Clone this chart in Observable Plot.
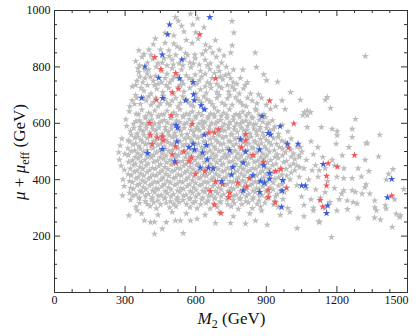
<!DOCTYPE html>
<html>
<head>
<meta charset="utf-8">
<script src="https://cdn.jsdelivr.net/npm/d3@7"></script>
<script src="https://cdn.jsdelivr.net/npm/@observablehq/plot@0.6"></script>
<style>
  html, body { margin: 0; padding: 0; background: #fff; }
  #chart svg { display: block; }
</style>
</head>
<body>
<div id="chart"></div>
<script>
// ---- tick values ----
const xTicks = [0, 300, 600, 900, 1200, 1500];
const xMinor = [75, 150, 225, 375, 450, 525, 675, 750, 825, 975, 1050, 1125, 1275, 1350, 1425];
const yTicks = [200, 400, 600, 800, 1000];
const yMinor = [50, 100, 150, 250, 300, 350, 450, 500, 550, 650, 700, 750, 850, 900, 950];

// ---- gray points [M2, mu+mu_eff] ----
const grayPoints = [
  [514,976],[526,963],[578,988],[608,972],[754,962],[540,945],[587,950],[762,921],
  [507,911],[429,900],[358,858],[401,861],[450,861],[486,858],[557,849],[596,843],[642,858],[585,884],
  [642,879],[684,894],[507,882],[521,872],[535,865],[755,876],[749,850],[853,850],[470,885],[610,900],
  [660,870],[560,895],[700,860],[420,880],[380,845],[1321,838],[470,920],[550,925],[600,922],[635,940],
  [345,820],[372,835],[395,815],[418,828],[440,812],[465,830],[478,805],[500,825],[515,842],[530,812],
  [552,828],[575,815],[598,830],[615,808],[640,825],[662,812],[688,835],[710,815],[730,800],[760,790],
  [355,795],[400,790],[455,785],[500,795],[540,790],[580,798],[620,785],[660,792],[700,785],[858,799],[800,790],
  [362,805],[385,790],[410,842],[432,800],[458,815],[488,838],[505,808],[545,805],[565,842],[590,812],
  [628,846],[650,805],[672,850],[695,800],[720,840],[740,775],[362,765],[385,760],[430,768],[455,745],
  [478,775],[500,755],[525,770],[548,740],[572,760],[598,772],[615,752],[640,775],[662,740],[680,778],
  [705,765],[725,770],[748,760],[775,740],[820,745],[345,735],[368,725],[425,735],[475,735],[535,735],
  [590,738],[640,730],[700,730],[755,730],[810,735],
  [330,730],[358,781],[394,776],[408,764],[350,750],[375,745],[395,735],[420,750],[440,740],[470,760],
  [490,745],[510,765],[540,750],[560,770],[585,755],[605,740],[625,765],[650,745],[670,760],[690,740],
  [715,755],[735,735],[760,745],[790,760],[889,773],[901,752],[948,747],[803,723],[833,705],[867,702],
  [380,715],[410,705],[435,722],[460,710],[485,725],[505,705],[525,728],[550,712],[575,725],[600,705],
  [620,720],[645,708],[665,725],[690,710],[710,725],[740,712],[765,720],[785,705],[345,700],[1003,710],
  [330,681],[320,660],[350,690],[365,668],[390,680],[410,665],[430,690],[450,670],[470,685],[490,665],
  [515,690],[535,672],[560,685],[580,665],[605,690],[625,672],[648,685],[670,668],[690,690],[712,672],
  [735,688],[755,665],[780,680],[800,665],[854,651],[918,651],[967,681],[1045,683],[1151,683],[1159,693],
  [1062,639],[1088,639],[1074,645],[1173,654],[880,690],[820,690],[1055,628],[1074,628],
  [340,668],[378,690],[400,695],[420,675],[440,660],[462,697],[480,670],[500,680],[525,660],[545,695],
  [570,675],[590,660],[615,680],[635,695],[660,678],[680,655],[700,700],[725,665],[745,700],[770,692],
  [790,675],[815,660],[840,680],[860,670],[900,665],[940,660],[980,650],
  [318,642],[347,633],[371,648],[400,637],[426,645],[455,631],[478,644],[507,638],[533,649],[560,633],
  [586,641],[613,636],[641,650],[664,634],[694,643],[719,637],[744,649],[772,632],[800,641],[826,636],
  [858,646],[890,632],
  [357,631],[387,625],[411,630],[441,626],[465,632],[494,624],[519,629],[547,627],[573,633],
  [601,625],[626,629],[654,624],[679,631],[708,626],[733,630],[761,625],[786,632],[815,627],[839,623],[869,630],
  [303,614],[360,610],[386,619],[413,613],[440,624],[466,611],[494,618],[519,609],[547,622],
  [573,614],[599,620],[627,608],[652,617],[680,623],[706,611],[733,619],[760,612],[787,621],[814,609],
  [842,618],[870,612],[897,621],[926,610],
  [346,607],[371,600],[400,605],[425,599],[454,606],[479,602],[508,598],[532,604],[561,601],
  [586,607],[614,599],[639,604],[668,601],[693,606],[721,598],[746,603],[775,600],[799,606],[829,601],
  [855,597],[885,605],[911,601],
  [307,590],[336,598],[363,587],[390,595],[416,589],[444,600],[471,586],[498,594],[525,588],[551,597],
  [578,591],[605,585],[631,596],[659,590],[685,599],[711,586],[739,593],[765,588],[791,598],[820,590],
  [846,595],[874,586],[903,597],[937,588],[968,594],
  [337,583],[365,576],[390,582],[419,578],[444,584],[472,575],[497,581],[526,577],[551,583],
  [579,576],[604,579],[633,584],[657,577],[686,581],[711,575],[740,582],[764,578],[793,584],[818,576],
  [847,581],[871,577],[901,583],[929,578],
  [323,573],[351,563],[377,571],[404,566],[431,575],[457,562],[484,570],[511,565],[537,574],
  [564,561],[591,569],[617,575],[644,563],[671,570],[697,565],[724,574],[751,562],[777,569],[804,575],
  [831,563],[858,570],[885,566],[914,574],[952,562],[992,571],
  [326,559],[355,552],[380,558],[408,553],[433,560],[462,551],[487,557],[515,553],[540,559],
  [569,550],[593,556],[622,553],[647,560],[676,551],[700,557],[729,553],[754,559],[782,550],[807,556],
  [836,552],[861,558],[890,553],[917,559],[951,551],
  [286,545],[313,539],[341,549],[367,541],[394,547],[421,537],[447,546],[474,540],[501,550],[527,538],
  [554,545],[581,541],[607,549],[634,536],[661,544],[687,540],[714,549],[741,537],[767,545],[794,541],
  [821,548],[848,536],[875,544],[901,540],[931,547],[966,538],[1006,545],
  [320,535],[345,528],[374,534],[399,529],[427,536],[452,527],[481,533],[506,529],[534,535],
  [559,526],[588,532],[612,528],[641,534],[666,527],[694,533],[719,528],[748,535],[772,527],[801,532],
  [826,528],[854,534],[879,529],[911,533],[944,527],[981,533],
  [279,521],[333,524],[359,518],[386,526],[413,514],[439,522],[466,517],[493,525],[519,513],
  [546,521],[573,516],[599,526],[626,514],[653,520],[679,516],[706,525],[733,513],[759,521],[786,518],
  [813,526],[839,514],[866,522],[893,517],[921,524],[956,515],[991,523],[1031,517],
  [312,511],[341,504],[365,510],[394,505],[419,511],[447,503],[472,509],[501,505],[525,511],
  [554,503],[579,508],[607,504],[632,510],[661,503],[685,509],[714,504],[739,511],[767,503],[792,509],
  [821,505],[845,511],[874,503],[901,509],[934,504],[969,510],[1004,506],
  [273,497],[299,491],[326,500],[353,493],[379,499],[406,489],[433,497],[459,492],[486,501],[513,490],
  [539,496],[566,493],[593,500],[619,489],[646,497],[673,492],[699,501],[726,490],[753,496],[779,493],
  [806,500],[833,489],[859,497],[886,492],[913,499],[946,490],[981,497],[1016,492],[1051,499],
  [314,487],[343,480],[367,486],[396,481],[421,487],[449,479],[474,485],[503,481],[527,487],
  [556,479],[581,484],[609,480],[634,486],[663,479],[687,485],[716,480],[741,487],[769,479],[794,485],
  [823,481],[847,487],[876,479],[902,485],[936,480],[969,486],[1006,481],[1039,486],
  [276,471],[331,468],[357,475],[384,470],[411,479],[437,467],[464,474],[491,469],[517,478],
  [544,466],[571,473],[597,470],[624,478],[651,467],[677,473],[704,469],[731,478],[757,466],[784,474],
  [811,470],[837,477],[864,467],[891,474],[919,469],[951,477],[986,466],[1021,473],
  [315,463],[344,456],[369,462],[398,457],[422,463],[451,455],[476,461],[504,457],[529,463],
  [558,455],[582,460],[611,456],[636,462],[664,455],[689,461],[718,456],[742,463],[771,455],[796,461],
  [824,457],[849,463],[878,455],[904,461],[941,456],[974,462],[1016,457],
  [283,449],[336,452],[363,445],[389,450],[416,441],[443,448],[469,444],[496,453],[523,442],
  [549,449],[576,445],[603,452],[629,441],[656,448],[683,444],[709,452],[736,442],[763,449],[789,444],
  [816,451],[843,441],[869,448],[896,443],[926,451],[961,442],[1001,449],[1041,444],
  [297,435],[322,439],[351,432],[375,438],[404,433],[429,439],[457,431],[482,437],[511,433],[535,439],
  [564,431],[589,436],[617,432],[642,438],[671,431],[695,437],[724,432],[749,439],[777,431],[802,437],
  [831,433],[855,439],[884,431],[912,437],[949,432],[984,438],[1021,433],
  [313,419],[339,428],[366,421],[393,427],[419,417],[446,424],[473,420],[499,429],[526,418],
  [553,425],[579,421],[606,428],[633,417],[659,424],[686,420],[713,429],[739,418],[766,425],[793,421],
  [819,428],[846,417],[873,424],[899,420],[931,427],[966,418],[1006,425],
  [326,415],[355,408],[379,414],[408,409],[433,415],[461,407],[486,413],[515,409],[539,415],
  [568,407],[593,412],[621,408],[646,414],[675,407],[699,413],[728,408],[753,415],[781,407],[806,413],
  [835,409],[859,415],[889,407],[917,413],[953,408],[987,414],
  [291,401],[319,395],[346,404],[373,397],[399,403],[426,393],[453,400],[479,396],[506,405],[533,394],
  [559,401],[586,397],[613,404],[639,393],[666,400],[693,396],[719,405],[746,394],[773,401],[799,397],
  [826,404],[853,393],[879,400],[906,396],[936,403],[971,394],[1001,401],
  [331,391],[361,384],[385,390],[414,385],[439,391],[467,383],[492,389],[521,385],[545,391],
  [574,383],[599,388],[627,384],[652,390],[681,383],[705,389],[734,384],[759,391],[787,383],[812,389],
  [841,385],[866,391],[897,383],[929,389],[967,384],
  [296,377],[323,371],[351,380],[377,373],[404,379],[431,369],[457,376],[484,372],[511,381],[537,370],
  [564,377],[591,373],[617,380],[644,369],[671,376],[697,372],[724,381],[751,370],[777,377],[804,373],
  [831,380],[858,369],[885,376],[916,372],[951,379],[986,370],
  [335,367],[363,360],[388,366],[417,361],[441,367],[470,359],[495,365],[523,361],[548,367],
  [577,359],[601,364],[630,360],[655,366],[683,359],[708,365],[737,360],[761,367],[790,359],[815,365],
  [843,361],[869,367],[899,359],[929,365],[961,360],
  [289,344],[319,353],[346,347],[373,356],[399,349],[426,355],[453,345],[479,352],[506,348],[533,357],
  [559,346],[586,353],[613,349],[639,356],[666,345],[693,352],[719,348],[746,357],[773,346],[799,353],
  [826,349],[853,356],[881,345],[911,352],[946,348],[976,355],
  [333,343],[361,336],[387,342],[416,337],[441,343],[470,335],[495,341],[523,337],[548,343],
  [577,335],[601,340],[630,336],[655,342],[683,335],[708,341],[737,336],[761,343],[790,335],[815,341],
  [845,337],[871,343],[906,335],[939,341],
  [323,328],[359,333],[386,324],[413,331],[439,326],[466,334],[493,323],[519,330],[546,327],[573,331],
  [599,323],[626,330],[653,326],[679,334],[706,323],[733,330],[759,327],[786,331],[813,323],[841,330],
  [869,326],[901,334],[936,324],[971,331],
  [361,317],[394,313],[421,319],[451,312],[474,318],[506,314],[529,320],[561,313],[589,317],[621,312],
  [644,318],[676,314],[704,319],[736,312],[764,317],[796,313],[824,319],[861,314],[894,318],[931,312],
  [346,303],[406,306],[433,298],[489,301],[516,305],[576,302],[606,298],[661,297],[691,303],[751,305],
  [781,296],[841,299],[876,304],[951,303],[991,299],
  [316,273],[351,291],[382,255],[408,249],[425,250],[475,249],[458,226],[425,208],[514,255],[535,255],
  [547,210],[578,255],[606,261],[684,246],[748,246],[812,244],[854,255],[904,240],[1031,228],[1126,249],
  [1177,196],[1123,252],[370,280],[440,275],[500,285],[560,280],[640,275],[700,285],[760,270],[830,280],
  [880,290],[960,275],[1000,285],[1060,270],[1100,290],
  [1279,615],[1382,559],[1329,530],[1377,482],[1438,437],[1336,430],[1304,411],[1265,405],[1229,405],
  [1319,373],[1265,362],[1279,356],[1244,326],[1269,320],[1286,315],[1361,326],[1361,302],[1368,291],
  [1406,309],[1409,297],[1452,279],[1466,267],[1484,366],[1435,232],[1360,265],[1290,264],[1385,258],
  [1470,273],[1324,383],[1307,350],[1229,362],
  [1134,586],[1180,580],[1201,572],[1265,580],[1265,551],[1197,527],[1251,515],[1324,529],[1223,486],
  [1119,515],[1045,515],[1090,536],[1074,586],[1201,557],[1109,451],[1125,433],[1095,433],
  [1040,480],[1070,470],[1100,490],[1140,480],[1180,470],[1030,450],[1060,440],[1150,440],[1190,450],
  [1230,440],[1040,410],[1080,400],[1120,410],[1160,395],[1200,410],[1030,380],[1070,370],[1110,365],
  [1150,355],[1190,370],[1220,350],[1050,340],[1090,330],[1130,335],[1170,320],[1210,330],[1060,310],
  [1100,300],[1150,300],[1200,290],[1245,295],[1290,440],[1320,470],[1410,400],[1445,330],[1420,420],[1340,350]
];

// ---- red points ----
const redPoints = [
  [617,915],[426,834],[452,792],[515,778],[685,759],[527,722],[500,709],[433,683],[496,628],[405,600],
  [585,597],[407,559],[436,549],[459,553],[462,539],[415,526],[514,518],[549,499],[500,490],[571,465],
  [582,478],[515,459],[599,420],[639,429],[656,566],[680,567],[697,578],[684,393],[662,359],[680,311],
  [707,281],[914,680],[1017,599],[812,561],[813,539],[795,514],[843,487],[994,513],[887,463],[1275,487],
  [1163,458],[1202,446],[962,437],[939,430],[829,405],[779,389],[714,384],[1156,413],[816,375],[1156,379],
  [908,364],[986,371],[744,353],[741,338],[909,338],[938,319],[1129,327],[1140,304],[1433,343]
];

// ---- blue points ----
const bluePoints = [
  [660,976],[489,950],[481,915],[458,843],[384,801],[541,826],[443,761],[531,759],[589,746],[370,690],
  [460,689],[591,702],[557,681],[594,681],[623,663],[636,649],[517,593],[523,584],[636,559],[520,535],
  [458,508],[395,494],[589,527],[571,515],[595,507],[645,522],[629,496],[649,472],[511,465],[619,443],
  [654,442],[674,440],[711,394],[882,625],[959,589],[908,565],[918,560],[790,543],[990,527],[1035,527],
  [744,504],[871,507],[812,499],[889,451],[802,460],[758,444],[752,418],[1142,455],[914,423],[843,415],
  [875,394],[892,389],[914,403],[970,398],[1050,379],[1066,379],[802,362],[872,356],[967,361],[965,303],
  [1161,308],[1156,281],[1433,402],[1415,337]
];

const W = 419, H = 336;
const mL = 54, mR = 12, mT = 10, mB = 44;
const pw = W - mL - mR, ph = H - mT - mB;
const major = 6, minor = 3;
const ink = "#333";
const starR = 2.3;
const font = "'Liberation Serif', 'DejaVu Serif', serif";
const lastX = xTicks[xTicks.length - 1];

const plot = Plot.plot({
  width: W, height: H,
  marginLeft: mL, marginRight: mR, marginTop: mT, marginBottom: mB,
  x: {domain: [0, 1500]},
  y: {domain: [0, 1000]},
  style: {fontFamily: font, fontSize: "12px", background: "#fff", color: "#111"},
  marks: [
    Plot.dot(grayPoints, {x: d => d[0], y: d => d[1], symbol: "star", r: starR, fill: "#bdbdbd", stroke: null}),
    Plot.dot(redPoints, {x: d => d[0], y: d => d[1], symbol: "star", r: starR, fill: "#f25a5a", stroke: null}),
    Plot.dot(bluePoints, {x: d => d[0], y: d => d[1], symbol: "star", r: starR, fill: "#3f5fd9", stroke: null}),
    Plot.frame({stroke: ink, strokeWidth: 1}),
    Plot.axisX(xTicks.slice(0, -1), {tickSize: 0, tickPadding: 3, fontSize: 12, label: null, tickFormat: d => String(d)}),
    Plot.text([lastX], {x: d => d, frameAnchor: "bottom", text: d => String(d), textAnchor: "end", lineAnchor: "top", dx: 1, dy: 3, fontSize: 12}),
    Plot.axisY(yTicks, {tickSize: 0, tickPadding: 4, fontSize: 12, label: null, tickFormat: d => String(d)}),
    // inward ticks, bottom & top
    Plot.ruleX(xTicks, {x: d => d, insetTop: ph - major, stroke: ink}),
    Plot.ruleX(xTicks, {x: d => d, insetBottom: ph - major, stroke: ink}),
    Plot.ruleX(xMinor, {x: d => d, insetTop: ph - minor, stroke: ink}),
    Plot.ruleX(xMinor, {x: d => d, insetBottom: ph - minor, stroke: ink}),
    // inward ticks, left & right
    Plot.ruleY(yTicks, {y: d => d, insetRight: pw - major, stroke: ink}),
    Plot.ruleY(yTicks, {y: d => d, insetLeft: pw - major, stroke: ink}),
    Plot.ruleY(yMinor, {y: d => d, insetRight: pw - minor, stroke: ink}),
    Plot.ruleY(yMinor, {y: d => d, insetLeft: pw - minor, stroke: ink})
  ]
});

const svg = d3.select(plot);

// x axis label: M_2 (GeV)
const xl = svg.append("text")
  .attr("x", mL + pw / 2 + 1).attr("y", 324)
  .attr("text-anchor", "middle")
  .attr("font-family", font).attr("font-size", 17).attr("fill", "#111");
xl.append("tspan").attr("font-style", "italic").text("M");
xl.append("tspan").attr("font-size", 12).attr("dy", 4).text("2");
xl.append("tspan").attr("dy", -4).text(" (GeV)");

// y axis label: mu + mu_eff (GeV)
const yl = svg.append("text")
  .attr("transform", `translate(25,${mT + ph / 2 + 1}) rotate(-90)`)
  .attr("text-anchor", "middle")
  .attr("font-family", font).attr("font-size", 17).attr("fill", "#111");
yl.append("tspan").attr("font-style", "italic").text("μ");
yl.append("tspan").text(" + ");
yl.append("tspan").attr("font-style", "italic").text("μ");
yl.append("tspan").attr("font-size", 12).attr("dy", 4).text("eff");
yl.append("tspan").attr("dy", -4).text(" (GeV)");

document.getElementById("chart").appendChild(plot);
</script>
</body>
</html>
